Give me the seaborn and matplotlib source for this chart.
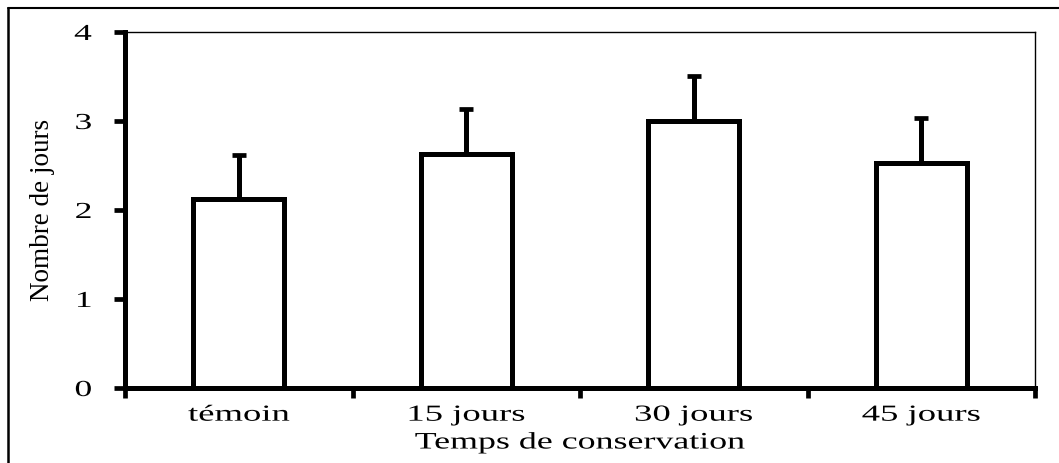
import matplotlib
matplotlib.use("Agg")
import matplotlib.pyplot as plt
import seaborn as sns
import pandas as pd
from matplotlib.lines import Line2D
from matplotlib.patheffects import AbstractPathEffect
from matplotlib.transforms import Affine2D

categories = ["témoin", "15 jours", "30 jours", "45 jours"]
means = [2.12, 2.63, 3.00, 2.53]
errors = [0.50, 0.50, 0.51, 0.50]
yticks = [0, 1, 2, 3, 4]
xlabel = "Temps de conservation"
ylabel = "Nombre de jours"


class Stretch(AbstractPathEffect):
    """Widen glyphs horizontally (text stays a Text object)."""
    def __init__(self, sx, anchor="center"):
        super().__init__()
        self.sx = sx
        self.anchor = anchor

    def draw_path(self, renderer, gc, tpath, affine, rgbFace=None):
        ext = tpath.get_extents()
        cx = {"left": ext.x0, "center": (ext.x0 + ext.x1) / 2, "right": ext.x1}[self.anchor]
        t = Affine2D().translate(-cx, 0).scale(self.sx, 1).translate(cx, 0) + affine
        renderer.draw_path(gc, tpath, t, rgbFace)


sns.set_theme(style="white")
plt.rcParams["font.family"] = ["Liberation Serif", "DejaVu Serif"]

df = pd.DataFrame({"cat": categories, "val": means})

fig = plt.figure(figsize=(10.59, 4.63), dpi=100)
ax = fig.add_axes([125 / 1059, 1 - 388 / 463, 910 / 1059, 356 / 463])

sns.barplot(data=df, x="cat", y="val", color="white", edgecolor="black",
            linewidth=3.6, width=0.40, errorbar=None, ax=ax, zorder=2)
for p in ax.patches:
    p.set_facecolor("white")
    p.set_joinstyle("miter")

ax.errorbar(range(len(categories)), means, yerr=[[0] * len(errors), errors],
            fmt="none", ecolor="black", elinewidth=3.6, capsize=5.2,
            capthick=3.4, zorder=1)

ax.set_xlim(-0.5, len(categories) - 0.5)
ax.set_ylim(0, 4)
ax.set_yticks(yticks)
ax.set_yticklabels([str(t) for t in yticks], fontsize=16.5)
ax.set_xticks([i - 0.5 for i in range(len(categories) + 1)])
ax.set_xticklabels([])
ax.set_xticks(range(len(categories)), minor=True)
ax.set_xticklabels(categories, minor=True, fontsize=16.5)
ax.tick_params(axis="x", which="major", direction="out", length=7, width=3.4,
               color="black", bottom=True)
ax.tick_params(axis="x", which="minor", length=0, pad=12, labelcolor="black")
ax.tick_params(axis="y", direction="out", length=8, width=3.4, color="black",
               left=True, pad=16, labelcolor="black")

for side in ["left", "bottom"]:
    ax.spines[side].set_linewidth(3.6)
    ax.spines[side].set_color("black")
for side in ["top", "right"]:
    ax.spines[side].set_linewidth(1.0)
    ax.spines[side].set_color("black")
    ax.spines[side].set_visible(True)

ax.set_xlabel(xlabel, fontsize=17, color="black")
ax.xaxis.set_label_coords(0.5, -0.125)
ax.xaxis.label.set_va("top")
ax.set_ylabel(ylabel, fontsize=19.5, color="black")
ax.yaxis.set_label_coords(-0.077, 0.5)

# outer frame (top and left edges visible)
fig.add_artist(Line2D([8 / 1059, 1.0], [1 - 8 / 463, 1 - 8 / 463],
                      transform=fig.transFigure, color="black", lw=1.5))
fig.add_artist(Line2D([8 / 1059, 8 / 1059], [0.0, 1 - 8 / 463],
                      transform=fig.transFigure, color="black", lw=1.8))

fig.canvas.draw()
for t in ax.get_xticklabels(minor=True):
    t.set_path_effects([Stretch(1.6, "center")])
for t in ax.get_yticklabels():
    t.set_path_effects([Stretch(1.55, "right")])
ax.xaxis.label.set_path_effects([Stretch(1.52, "center")])

fig.savefig("out.png", dpi=100, facecolor="white")
